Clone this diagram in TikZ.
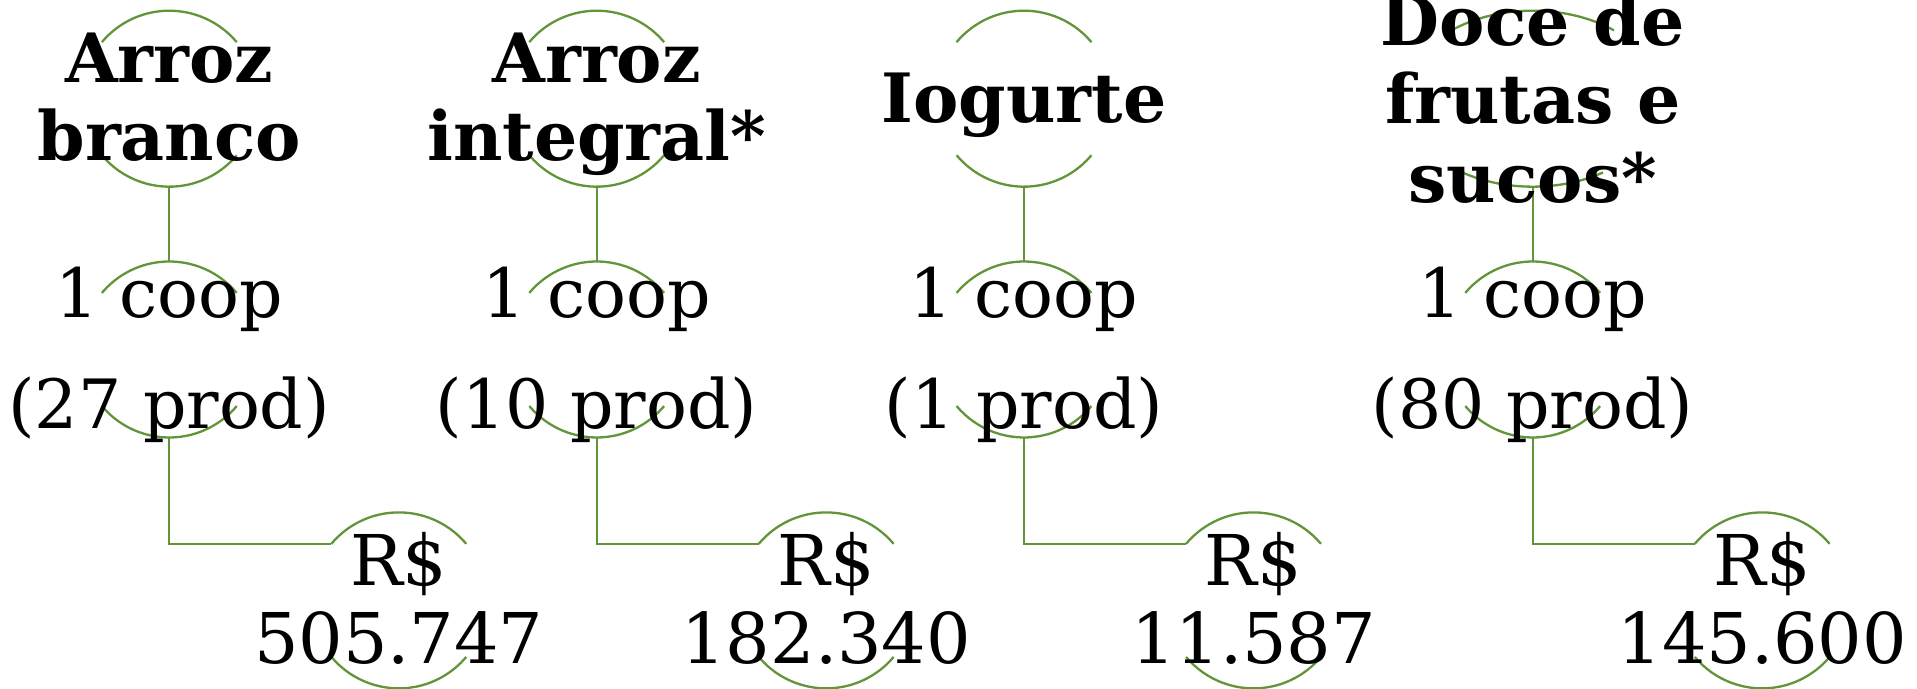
\documentclass[tikz,border=0pt]{standalone}
\usepackage{fontspec}
\setmainfont{DejaVu Serif}
\definecolor{lineGreen}{RGB}{98,148,58}
\newcommand\topstrut{\rule{0pt}{30pt}}
\tikzset{
  conn/.style={draw=lineGreen, line width=1.15pt},
  ring/.style={circle, minimum size=88pt, inner sep=0pt, outer sep=0pt, draw=none},
  titletext/.style={anchor=north, inner sep=0pt, align=center, font=\fontsize{34}{39.3}\selectfont\bfseries},
  cooptext/.style={anchor=north, inner sep=0pt, align=center, font=\fontsize{34}{55.8}\selectfont},
  moneytext/.style={anchor=north, inner sep=0pt, align=center, font=\fontsize{35}{39}\selectfont}
}
\newcommand\ringarcs[1]{%
  \draw[conn] (#1.40) arc[start angle=40, end angle=140, radius=44pt];
  \draw[conn] (#1.220) arc[start angle=220, end angle=320, radius=44pt];
}
\begin{document}
\begin{tikzpicture}[x=0.5pt, y=0.5pt]
\useasboundingbox (0,0) rectangle (1917,689);

% circle frames
\node[ring] (a1) at (169.3,590.3) {};
\node[ring] (b1) at (596.7,590.3) {};
\node[ring] (c1) at (1024,590.3) {};
\node[ring] (d1) at (1532.7,590.3) {};
\node[ring] (a2) at (169.3,339.5) {};
\node[ring] (b2) at (596.7,339.5) {};
\node[ring] (c2) at (1024,339.5) {};
\node[ring] (d2) at (1532.7,339.5) {};
\node[ring] (a3) at (398.8,88.6) {};
\node[ring] (b3) at (826.2,88.6) {};
\node[ring] (c3) at (1253.5,88.6) {};
\node[ring] (d3) at (1762.2,88.6) {};

% arcs
\ringarcs{a1}\ringarcs{b1}\ringarcs{c1}
\ringarcs{a2}\ringarcs{b2}\ringarcs{c2}\ringarcs{d2}
\ringarcs{a3}\ringarcs{b3}\ringarcs{c3}\ringarcs{d3}
\draw[conn] ([shift={(51:64.5pt and 44pt)}]d1.center) arc[start angle=51, end angle=129, x radius=64.5pt, y radius=44pt];
\draw[conn] ([shift={(237:64.5pt and 44pt)}]d1.center) arc[start angle=237, end angle=303, x radius=64.5pt, y radius=44pt];

% connectors
\draw[conn] (a1.south) -- (a2.north);
\draw[conn] (b1.south) -- (b2.north);
\draw[conn] (c1.south) -- (c2.north);
\draw[conn] (d1.south) -- (d2.north);
\draw[conn] (a2.south) |- (a3.140);
\draw[conn] (b2.south) |- (b3.140);
\draw[conn] (c2.south) |- (c3.140);
\draw[conn] (d2.south) |- (d3.140);

% texts
\node[titletext] (a1t) at (169.3,667.3) {\topstrut Arroz\\branco};
\node[titletext] (b1t) at (596.7,667.3) {\topstrut Arroz\\integral*};
\node[titletext] (c1t) at (1024,627.3) {\topstrut Iogurte};
\node[titletext] (d1t) at (1532.7,704.3) {\topstrut Doce de\\frutas e\\sucos*};

\node[cooptext] (a2t) at (169.3,432.3) {\topstrut 1 coop\\(27 prod)};
\node[cooptext] (b2t) at (596.7,432.3) {\topstrut 1 coop\\(10 prod)};
\node[cooptext] (c2t) at (1024,432.3) {\topstrut 1 coop\\(1 prod)};
\node[cooptext] (d2t) at (1532.7,432.3) {\topstrut 1 coop\\(80 prod)};

\node[moneytext] (a3t) at (398.8,164) {\topstrut R\$\\505.747};
\node[moneytext] (b3t) at (826.2,164) {\topstrut R\$\\182.340};
\node[moneytext] (c3t) at (1253.5,164) {\topstrut R\$\\11.587};
\node[moneytext] (d3t) at (1762.2,164) {\topstrut R\$\\145.600};
\end{tikzpicture}
\end{document}
